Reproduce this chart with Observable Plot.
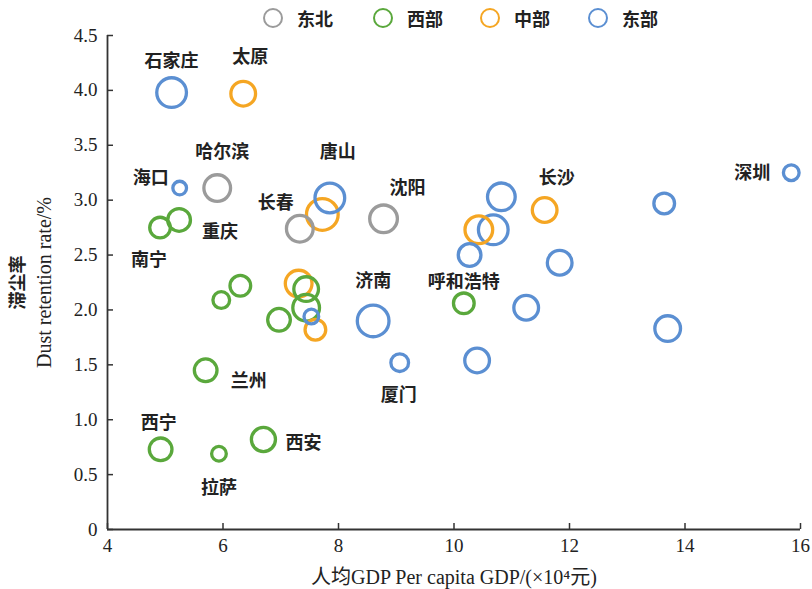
<!DOCTYPE html>
<html>
<head>
<meta charset="utf-8">
<script src="https://cdn.jsdelivr.net/npm/d3@7"></script>
<script src="https://cdn.jsdelivr.net/npm/@observablehq/plot@0.6"></script>
<style>
  html, body { margin: 0; padding: 0; background: #fff; }
  #wrap { width: 812px; height: 589px; position: relative; overflow: hidden; }
  #legend { height: 28px; position: relative; font-family: "Noto Sans CJK SC", sans-serif; font-weight: bold; font-size: 18px; color: #222; }
  .li { position: absolute; top: 0; height: 36px; display: flex; align-items: center; }
  .li span.c { display: inline-block; width: 16px; height: 16px; border-radius: 50%; border: 2.6px solid; margin-right: 14px; }
</style>
</head>
<body>
<div id="wrap">
  <div id="legend"></div>
  <div id="chart"></div>
</div>
<script>
// ---- data ----
const regionNames = ["东北", "西部", "中部", "东部"];
const regionColors = ["#9b9b9b", "#5aa83c", "#f5a623", "#5b8fd2"];

const cities = ["石家庄","太原","海口","哈尔滨","南宁","重庆","长春","唐山","","沈阳",
  "","","","","长沙","","深圳","","","呼和浩特",
  "","济南","厦门","","","","","","","",
  "","","兰州","西宁","拉萨","西安"];
const regions = ["东部","中部","东部","东北","西部","西部","东北","东部","中部","东北",
  "东部","中部","东部","东部","中部","东部","东部","东部","东部","西部",
  "东部","东部","东部","东部","西部","西部","中部","西部","西部","东部",
  "中部","西部","西部","西部","西部","西部"];
const gdp = [5.11,6.35,5.25,5.90,4.91,5.24,7.33,7.85,7.72,8.78,
  10.82,10.43,10.68,10.27,11.57,11.83,15.84,13.64,13.70,10.17,
  11.25,8.60,9.06,10.40,6.30,5.97,7.31,7.44,7.44,7.53,
  7.60,6.97,5.70,4.92,5.93,6.70];
const dust = [3.98,3.97,3.11,3.11,2.75,2.82,2.74,3.02,2.87,2.83,
  3.03,2.73,2.73,2.50,2.91,2.43,3.25,2.97,1.83,2.06,
  2.02,1.90,1.52,1.54,2.22,2.09,2.24,2.19,2.02,1.94,
  1.82,1.91,1.45,0.73,0.69,0.82];
const bubble = [16.5,14,8.5,15,12,13,15,16.5,17.5,15.5,
  15.5,15.5,16.5,13,14,14,9.5,12,14.5,12,
  14,17.5,10.5,14,12,10,15,14,15,9,
  12,13,13,13,9,13.7];

const xTicks = [4, 6, 8, 10, 12, 14, 16];
const yTicks = [0, 0.5, 1.0, 1.5, 2.0, 2.5, 3.0, 3.5, 4.0, 4.5];
const xTitle = "人均GDP Per capita GDP/(×10⁴元)";
const yTitleCN = "滞尘率";
const yTitleEN = "Dust retention rate/%";

// label offsets (pixels) relative to each bubble
const labelOffset = {
  "石家庄": [0, -31], "太原": [7, -36], "哈尔滨": [5, -36], "海口": [-29, -10],
  "重庆": [41, 12], "南宁": [-11, 33], "唐山": [8, -46], "长春": [-24, -25],
  "沈阳": [24, -31], "长沙": [12, -32], "深圳": [-39, 1], "济南": [0, -40],
  "呼和浩特": [0, -21], "厦门": [-1, 33], "兰州": [43, 11], "西宁": [-2, -26],
  "拉萨": [0, 34], "西安": [40, 4]
};

const data = cities.map((c, i) => ({city: c, region: regions[i], gdp: gdp[i], dust: dust[i], size: bubble[i]}));

// ---- layout ----
const W = 812, H = 561;
const mL = 107, mR = 12, mT = 7, mB = 60;
const frameW = W - mL - mR, frameH = H - mT - mB;
const axisColor = "#333";
const sw = 3.3;
const serif = "'Liberation Serif', 'Times New Roman', 'Noto Sans CJK SC', serif";
const cjk = "'Noto Sans CJK SC', sans-serif";

// legend
const legend = document.getElementById("legend");
const legendX = [263, 373, 480, 588];
regionNames.forEach((n, i) => {
  const el = document.createElement("div");
  el.className = "li";
  el.style.left = legendX[i] + "px";
  el.innerHTML = `<span class="c" style="border-color:${regionColors[i]}"></span>${n}`;
  legend.appendChild(el);
});

const labelMarks = data.filter(d => d.city).map(d => Plot.text([d], {
  x: "gdp", y: "dust", text: "city",
  dx: labelOffset[d.city][0], dy: labelOffset[d.city][1],
  fontFamily: cjk, fontWeight: "bold", fontSize: 18, fill: "#222"
}));

const chart = Plot.plot({
  width: W, height: H,
  marginLeft: mL, marginRight: mR, marginTop: mT, marginBottom: mB,
  style: {fontFamily: serif, fontSize: "19px", color: "#222", background: "transparent", overflow: "visible"},
  x: {domain: [4, 16]},
  y: {domain: [0, 4.5]},
  r: {type: "identity"},
  color: {domain: regionNames, range: regionColors},
  marks: [
    Plot.axisX(xTicks, {tickSize: 0, tickPadding: 9, fontSize: 19, label: null, fill: "#222"}),
    Plot.axisY(yTicks, {tickSize: 0, tickPadding: 10, fontSize: 19, label: null, fill: "#222",
      tickFormat: d => d === 0 ? "0" : d.toFixed(1)}),
    Plot.tickY(yTicks, {y: d => d, insetRight: frameW - 6, stroke: axisColor, strokeWidth: 1.5}),
    Plot.tickX(xTicks, {x: d => d, insetTop: frameH - 6, stroke: axisColor, strokeWidth: 1.5}),
    Plot.ruleX([4], {stroke: axisColor, strokeWidth: 1.8}),
    Plot.ruleY([0], {stroke: axisColor, strokeWidth: 1.8}),
    Plot.dot(data, {x: "gdp", y: "dust", r: d => d.size - sw / 2, stroke: "region", strokeWidth: sw, fill: "none"}),
    ...labelMarks,
    Plot.text([yTitleCN], {frameAnchor: "left", rotate: -90, dx: -89, textAnchor: "middle", lineAnchor: "middle",
      fontFamily: cjk, fontWeight: "bold", fontSize: 18, fill: "#222"}),
    Plot.text([yTitleEN], {frameAnchor: "left", rotate: -90, dx: -63, textAnchor: "middle", lineAnchor: "middle",
      fontFamily: serif, fontSize: 20, fill: "#222"}),
    Plot.text([xTitle], {frameAnchor: "bottom", dy: 48, textAnchor: "middle", lineAnchor: "middle",
      fontFamily: serif, fontSize: 20, fill: "#222"})
  ]
});
document.getElementById("chart").appendChild(chart);
</script>
</body>
</html>
